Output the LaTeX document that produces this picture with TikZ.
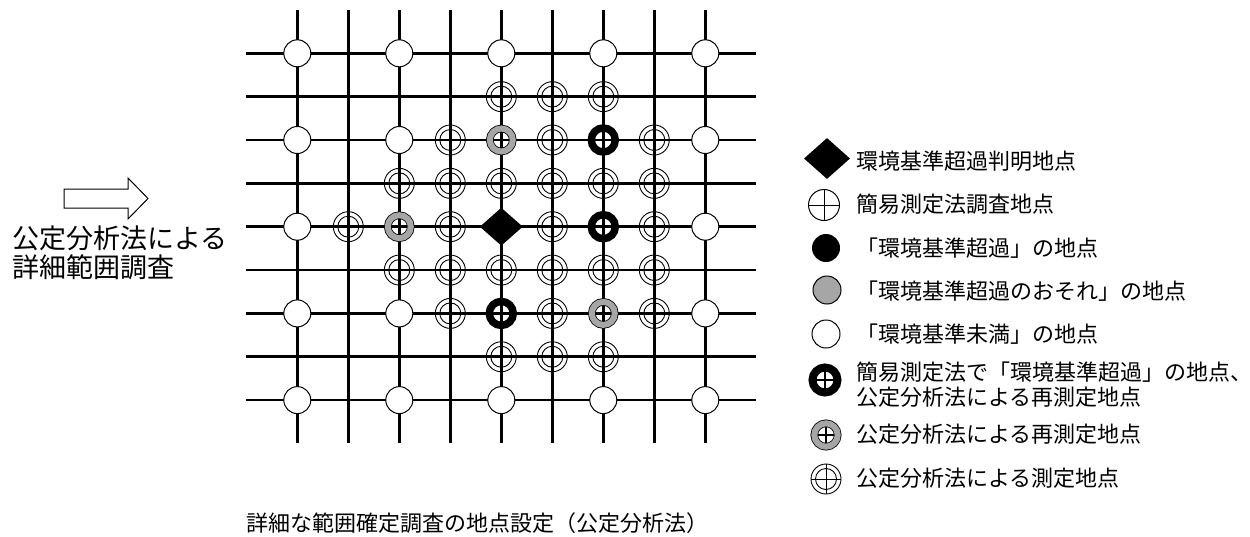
\documentclass[tikz,border=0pt]{standalone}
\usepackage{fontspec}
\setmainfont{Noto Sans CJK JP}
\usetikzlibrary{shapes.geometric}
\newcommand{\ppcross}[1]{\draw[line width=#1] (path picture bounding box.north) -- (path picture bounding box.south) (path picture bounding box.west) -- (path picture bounding box.east);}
\tikzset{
  grid line/.style={line width=2.6pt},
  pt white/.style={circle,draw,line width=1pt,fill=white,minimum size=27pt,inner sep=0pt},
  pt black/.style={circle,fill=black,minimum size=28pt,inner sep=0pt},
  pt gray/.style={circle,draw,line width=1pt,fill=gray!70,minimum size=28pt,inner sep=0pt},
  pt dbl/.style={circle,draw,line width=0.9pt,minimum size=30pt,inner sep=0pt,
    path picture={\draw[line width=0.9pt] (path picture bounding box.center) circle (10.5pt);}},
  ring black/.style={circle,draw=black,line width=7.5pt,minimum size=24pt,inner sep=0pt},
  ring gray/.style={circle,draw=black,line width=0.8pt,double=gray!70,double distance=6pt,minimum size=23pt,inner sep=0pt},
  pt dia/.style={diamond,fill=black,minimum width=43pt,minimum height=38pt,inner sep=0pt},
  legend txt/.style={anchor=base west,inner sep=0pt,font=\fontsize{22}{25}\selectfont,align=left},
}
\begin{document}
\begin{tikzpicture}[x=1pt,y=-1pt]
\useasboundingbox (0,0) rectangle (1250,536);

% grid of sampling points
\begin{scope}[shift={(297.3,53.3)},x=51pt,y=-43.35pt]
\foreach \i in {0,...,8}
         {
           \draw[grid line] (\i,-1) -- (\i,9);
           \draw[grid line] (-1,\i) -- (9,\i);
         }

\foreach \c in {0,2,4,6,8}
         {
           \node[pt white] (w\c-0) at (\c,0) {};
           \node[pt white] (w\c-8) at (\c,8) {};
         }
\foreach \r in {2,4,6}
         {
           \node[pt white] (w0-\r) at (0,\r) {};
           \node[pt white] (w8-\r) at (8,\r) {};
         }
\node[pt white] (w2-2) at (2,2) {};
\node[pt white] (w2-6) at (2,6) {};

\foreach \c/\r in {4/1,5/1,6/1,4/7,5/7,6/7,
                   2/3,3/3,4/3,5/3,6/3,7/3,2/5,3/5,4/5,5/5,6/5,7/5,
                   3/2,5/2,7/2,1/4,3/4,5/4,7/4,3/6,5/6,7/6}
         {
           \node[pt dbl] (d\c-\r) at (\c,\r) {};
         }

\node[ring gray] (g4-2) at (4,2) {};
\node[ring gray] (g2-4) at (2,4) {};
\node[ring gray] (g6-6) at (6,6) {};
\node[ring black] (b6-2) at (6,2) {};
\node[ring black] (b6-4) at (6,4) {};
\node[ring black] (b4-6) at (4,6) {};
\node[pt dia] (x4-4) at (4,4) {};
\end{scope}

% arrow and left label
\draw[line width=1pt] (64,189) -- (128,189) -- (128,178) -- (148,198.5) -- (128,219) -- (128,208) -- (64,208) -- cycle;
\node[anchor=base west,inner sep=0pt,align=left,font=\fontsize{27}{29}\selectfont] (lbl) at (12,277) {公定分析法による\\詳細範囲調査};

% legend
\node[pt dia,minimum width=46pt,minimum height=41pt] (k1) at (827,158.5) {};
\node[circle,draw,line width=1pt,minimum size=31pt,inner sep=0pt,path picture={\ppcross{0.9pt}}] (k2) at (824,205) {};
\node[pt black] (k3) at (826,248) {};
\node[pt gray] (k4) at (827,290) {};
\node[pt white,minimum size=28pt] (k5) at (826,334) {};
\node[ring black,line width=8pt,minimum size=25pt,path picture={\ppcross{1.8pt}}] (k6) at (825,380) {};
\node[ring gray,minimum size=23.4pt,path picture={\ppcross{1.5pt}}] (k7) at (826,435) {};
\node[pt dbl,path picture={\draw[line width=0.9pt] (path picture bounding box.center) circle (10.5pt); \ppcross{0.9pt}}] (k8) at (826,479) {};

\node[legend txt] (t1) at (856,169.4) {環境基準超過判明地点};
\node[legend txt] (t2) at (856,212.4) {簡易測定法調査地点};
\node[legend txt] (t3) at (856,256.4) {「環境基準超過」の地点};
\node[legend txt] (t4) at (856,299.4) {「環境基準超過のおそれ」の地点};
\node[legend txt] (t5) at (856,342.4) {「環境基準未満」の地点};
\node[legend txt] (t6) at (856,405.4) {簡易測定法で「環境基準超過」の地点、\\公定分析法による再測定地点};
\node[legend txt] (t7) at (856,442.4) {公定分析法による再測定地点};
\node[legend txt] (t8) at (856,486.4) {公定分析法による測定地点};

% caption
\node[anchor=base west,inner sep=0pt,font=\fontsize{22}{25}\selectfont] (cap) at (246,531) {詳細な範囲確定調査の地点設定（公定分析法）};

\end{tikzpicture}
\end{document}
